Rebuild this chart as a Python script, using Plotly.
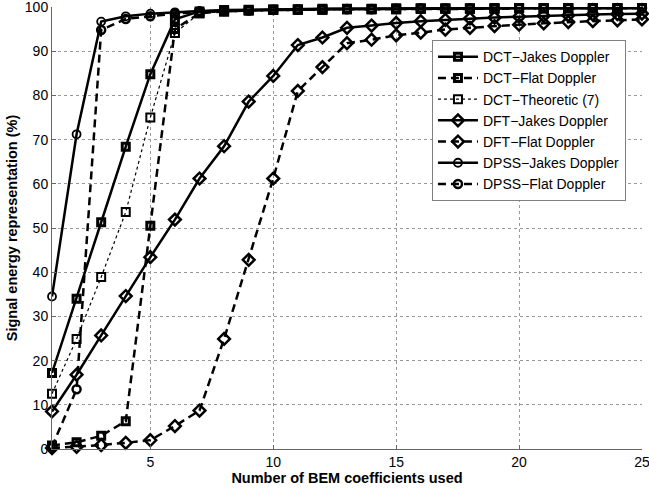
import plotly.graph_objects as go

x = list(range(1, 26))

dct_jakes = [17.2, 34, 51.3, 68.4, 84.8, 97.2, 99.0, 99.3, 99.4, 99.5, 99.5, 99.6, 99.6, 99.6, 99.7,
             99.7, 99.7, 99.7, 99.8, 99.8, 99.8, 99.8, 99.8, 99.8, 99.8]
dct_flat = [0.8, 1.5, 3.0, 6.3, 50.5, 95.0, 98.6, 99.0, 99.2, 99.3, 99.4, 99.4, 99.5, 99.5, 99.5,
            99.6, 99.6, 99.6, 99.6, 99.7, 99.7, 99.7, 99.7, 99.7, 99.7]
dct_theo = [12.5, 24.9, 38.9, 53.6, 75.0, 94.1, 98.6, 99.0, 99.2, 99.3, 99.4, 99.4, 99.5, 99.5, 99.5,
            99.6, 99.6, 99.6, 99.6, 99.7, 99.7, 99.7, 99.7, 99.7, 99.7]
dft_jakes = [8.5, 16.8, 25.7, 34.6, 43.4, 51.9, 61.2, 68.5, 78.6, 84.4, 91.4, 93.1, 95.3, 95.8, 96.4,
             96.8, 97.1, 97.4, 97.6, 97.8, 98.0, 98.1, 98.3, 98.4, 98.5]
dft_flat = [0.2, 0.5, 0.9, 1.4, 2.0, 5.2, 8.7, 24.9, 42.8, 61.2, 81.0, 86.4, 91.8, 92.6, 93.6,
            94.2, 94.9, 95.3, 95.7, 96.0, 96.3, 96.6, 96.8, 97.0, 97.2]
dpss_jakes = [34.5, 71.2, 96.7, 97.9, 98.5, 98.8, 99.1, 99.2, 99.3, 99.4, 99.5, 99.5, 99.6, 99.6, 99.6,
              99.7, 99.7, 99.7, 99.7, 99.8, 99.8, 99.8, 99.8, 99.8, 99.8]
dpss_flat = [0.5, 13.5, 94.8, 97.3, 97.9, 98.5, 98.9, 99.1, 99.2, 99.3, 99.4, 99.5, 99.5, 99.5, 99.6,
             99.6, 99.6, 99.7, 99.7, 99.7, 99.7, 99.7, 99.8, 99.8, 99.8]

series = [
    ("DCT\u2212Jakes Doppler", dct_jakes, "solid", "square-open", 2.5, 7, 3),
    ("DCT\u2212Flat Doppler", dct_flat, "8px,5px", "square-open", 2.5, 7, 3),
    ("DCT\u2212Theoretic (7)", dct_theo, "dot", "square-open", 1.2, 8, 2),
    ("DFT\u2212Jakes Doppler", dft_jakes, "solid", "diamond-open", 2.5, 9, 2.5),
    ("DFT\u2212Flat Doppler", dft_flat, "8px,5px", "diamond-open", 2.5, 9, 2.5),
    ("DPSS\u2212Jakes Doppler", dpss_jakes, "solid", "circle-open", 2.5, 8, 1.8),
    ("DPSS\u2212Flat Doppler", dpss_flat, "8px,5px", "circle-open", 2.5, 8, 2.5),
]

fig = go.Figure()
for name, y, dash, sym, lw, ms, mlw in series:
    fig.add_trace(go.Scatter(
        x=x, y=y, name=name, mode="lines+markers", cliponaxis=False,
        line=dict(color="black", width=lw, dash=dash),
        marker=dict(symbol=sym, size=ms, color="black", line=dict(color="black", width=mlw)),
    ))

font = "Liberation Sans, Arial, Helvetica, sans-serif"
fig.update_layout(
    width=649, height=490,
    margin=dict(l=52, r=7, t=7, b=41),
    paper_bgcolor="white", plot_bgcolor="white",
    font=dict(family=font, size=14, color="black"),
    showlegend=True,
    legend=dict(
        x=0.644, y=0.925, xanchor="left", yanchor="top",
        bgcolor="white", bordercolor="#808080", borderwidth=1,
        font=dict(size=14), tracegroupgap=0, itemwidth=40,
    ),
    xaxis=dict(
        range=[1, 25], tickmode="array", tickvals=[5, 10, 15, 20, 25],
        showgrid=True, gridcolor="#999999", griddash="dot", gridwidth=1,
        showline=True, linecolor="#666666", mirror=False, linewidth=1,
        ticks="inside", ticklen=4, tickcolor="#666666",
        zeroline=False, ticklabeloverflow="allow", automargin=False,
        title=dict(text="<b>Number of BEM coefficients used</b>", font=dict(size=14.5), standoff=3),
    ),
    yaxis=dict(
        range=[0, 100], tickmode="array", tickvals=list(range(0, 101, 10)),
        showgrid=True, gridcolor="#999999", griddash="dot", gridwidth=1,
        showline=True, linecolor="#666666", mirror=False, linewidth=1,
        ticks="inside", ticklen=4, tickcolor="#666666",
        zeroline=False, ticklabeloverflow="allow", automargin=False,
        title=dict(text="<b>Signal energy representation (%)</b>", font=dict(size=14.5), standoff=3),
    ),
)

fig.write_html("out.html")
